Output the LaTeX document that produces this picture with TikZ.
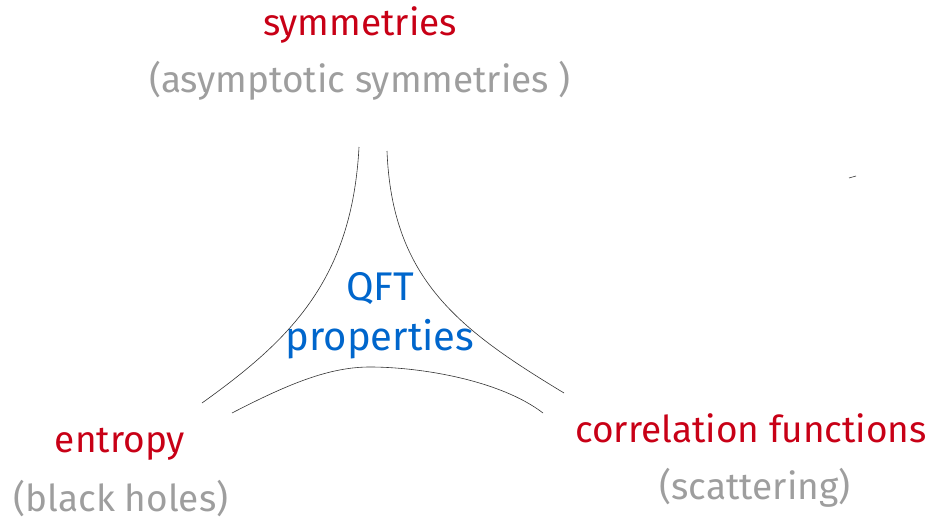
\documentclass[tikz,border=0pt]{standalone}
\usepackage{fontspec}
\setmainfont{Fira Sans}
\usetikzlibrary{positioning}

\definecolor{topicred}{RGB}{200,0,22}
\definecolor{notegray}{RGB}{158,158,158}
\definecolor{qftblue}{RGB}{0,102,204}

\begin{document}
\begin{tikzpicture}[
    x=1pt, y=-1pt,
    topic/.style={text=topicred, font=\fontsize{37}{44}\selectfont, inner sep=0pt, anchor=base},
    note/.style={text=notegray, font=\fontsize{37}{44}\selectfont, inner sep=0pt, anchor=base},
    core/.style={text=qftblue, font=\fontsize{40}{48}\selectfont, inner sep=0pt, anchor=base},
    curve/.style={black!80, line width=0.6pt}
]
\useasboundingbox (0,0) rectangle (932,522);

% Nodes
\node[topic] (sym) at (360,35) {symmetries};
\node[note] (asym) at (360,92) {(asymptotic symmetries )};
\node[core] (qft) at (380,300) {QFT};
\node[core] (props) at (380,350) {properties};
\node[topic] (ent) at (120,452) {entropy};
\node[note] (bh) at (121,511) {(black holes)};
\node[topic] (corr) at (751,442) {correlation functions};
\node[note] (scat) at (755,499) {(scattering)};

% Curves
\draw[curve] (359,147) .. controls (352,280) and (290,340) .. (202,403);
\draw[curve] (387,151) .. controls (392,280) and (460,330) .. (564,393);
\draw[curve] (232,413) .. controls (290,383) and (330,367) .. (370,367)
    .. controls (420,367) and (500,380) .. (543,413);
\draw[curve] (849,178) -- (856,176);

\end{tikzpicture}
\end{document}
